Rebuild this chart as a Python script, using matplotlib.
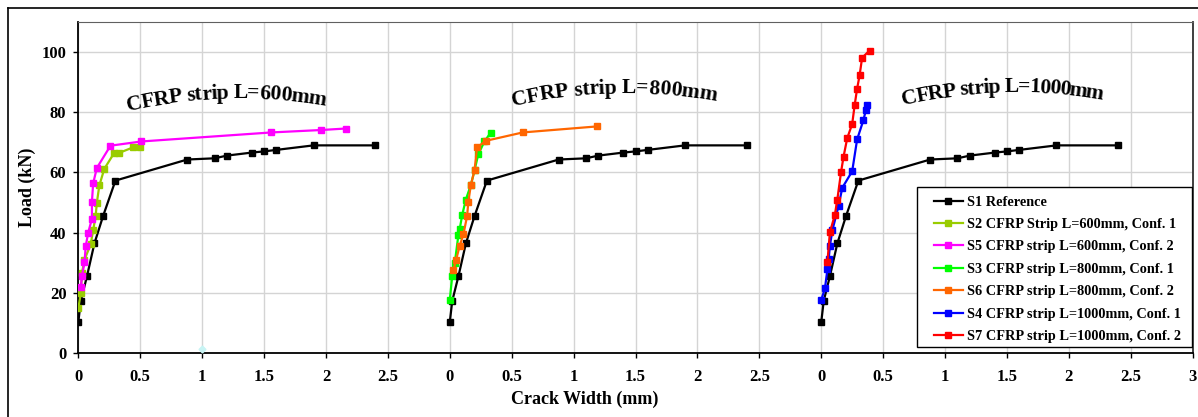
import numpy as np
import matplotlib
matplotlib.use("Agg")
import matplotlib.pyplot as plt
from matplotlib.font_manager import FontProperties
from matplotlib.transforms import IdentityTransform
from matplotlib.lines import Line2D
from matplotlib.patches import Rectangle

# ── data (crack width mm, load kN) ──
s1_x = [0, 0.02, 0.07, 0.13, 0.20, 0.30, 0.88, 1.10, 1.20, 1.40, 1.50, 1.60, 1.90, 2.40]
s1_y = [10.2, 17.3, 25.5, 36.4, 45.5, 57.3, 64.3, 64.7, 65.6, 66.6, 67.0, 67.5, 69.0, 69.0]

s2_x = [0, 0.02, 0.03, 0.05, 0.10, 0.12, 0.14, 0.15, 0.17, 0.21, 0.29, 0.33, 0.44, 0.50]
s2_y = [14.8, 19.8, 26.7, 31.0, 36.1, 40.8, 45.5, 50.0, 55.7, 61.2, 66.5, 66.5, 68.3, 68.5]

s5_x = [0.02, 0.03, 0.05, 0.06, 0.08, 0.11, 0.11, 0.12, 0.15, 0.26, 0.51, 1.56, 1.96, 2.16]
s5_y = [21.8, 25.6, 30.1, 35.5, 40.0, 44.6, 50.2, 56.4, 61.5, 68.9, 70.3, 73.3, 74.1, 74.6]

s3_x = [0, 0.02, 0.04, 0.07, 0.08, 0.10, 0.13, 0.17, 0.20, 0.23, 0.28, 0.33]
s3_y = [17.6, 25.6, 29.8, 39.3, 41.1, 45.8, 51.0, 55.8, 60.7, 66.0, 70.3, 73.2]

s6_x = [0.03, 0.05, 0.08, 0.11, 0.14, 0.15, 0.17, 0.20, 0.22, 0.29, 0.59, 1.19]
s6_y = [27.5, 30.8, 35.6, 39.4, 45.5, 50.2, 55.8, 60.7, 68.3, 70.5, 73.3, 75.3]

s4_x = [0, 0.03, 0.05, 0.06, 0.07, 0.09, 0.14, 0.17, 0.25, 0.29, 0.34, 0.36, 0.37]
s4_y = [17.6, 21.5, 27.8, 31.1, 35.6, 40.8, 48.9, 54.9, 60.4, 71.0, 77.3, 80.6, 82.3]

s7_x = [0.05, 0.07, 0.11, 0.13, 0.16, 0.18, 0.21, 0.25, 0.27, 0.29, 0.31, 0.33, 0.39]
s7_y = [30.2, 40.1, 45.9, 51.0, 60.1, 65.2, 71.4, 76.1, 82.4, 87.9, 92.3, 98.1, 100.5]

stray_x = [1.0]
stray_y = [1.2]

group_offsets = [0, 3, 6]   # each panel group shifted along the shared axis
x_tick_labels = ["0", "0.5", "1", "1.5", "2", "2.5"] * 2 + ["0", "0.5", "1", "1.5", "2", "2.5", "3"]
y_ticks = [0, 20, 40, 60, 80, 100]

labels = {
    "s1": "S1 Reference",
    "s2": "S2 CFRP Strip L=600mm, Conf. 1",
    "s5": "S5 CFRP strip L=600mm, Conf. 2",
    "s3": "S3 CFRP strip L=800mm, Conf. 1",
    "s6": "S6 CFRP strip L=800mm, Conf. 2",
    "s4": "S4 CFRP strip L=1000mm, Conf. 1",
    "s7": "S7 CFRP strip L=1000mm, Conf. 2",
}
colors = {"s1": "#000000", "s2": "#99CC00", "s5": "#FF00FF", "s3": "#00FF00",
          "s6": "#FF6600", "s4": "#0000FF", "s7": "#FF0000"}

SERIF = ["Liberation Serif", "DejaVu Serif"]
plt.rcParams["font.family"] = SERIF
plt.rcParams["font.weight"] = "bold"

W, H = 1198, 417
fig = plt.figure(figsize=(W / 100, H / 100), dpi=100)
AX_L, AX_R, AX_T, AX_B = 78.3, 1192.7, 22, 353
ax = fig.add_axes([AX_L / W, (H - AX_B) / H, (AX_R - AX_L) / W, (AX_B - AX_T) / H])

def img_to_axes(px, py):
    return (px - AX_L) / (AX_R - AX_L), (AX_B - py) / (AX_B - AX_T)

LW, MS = 1.6, 4.6

def draw(xs, ys, key, offset, label=None):
    ax.plot(np.array(xs) + offset, ys, color=colors[key], lw=LW, marker="s",
            ms=MS, mec=colors[key], mfc=colors[key], label=label, zorder=3)

# reference curve repeated in each group
for off in group_offsets:
    draw(s1_x, s1_y, "s1", off)
draw(s2_x, s2_y, "s2", group_offsets[0])
draw(s5_x, s5_y, "s5", group_offsets[0])
draw(s3_x, s3_y, "s3", group_offsets[1])
draw(s6_x, s6_y, "s6", group_offsets[1])
draw(s4_x, s4_y, "s4", group_offsets[2])
draw(s7_x, s7_y, "s7", group_offsets[2])
ax.plot(stray_x, stray_y, ls="none", marker="D", ms=3.5, color="#C8F4F4", zorder=3)

ax.set_xlim(0, 9)
ax.set_ylim(0, 110)
ax.set_xticks(np.arange(0, 9.01, 0.5))
ax.set_xticklabels(x_tick_labels)
ax.set_yticks(y_ticks)
ax.tick_params(axis="both", direction="out", length=3.5, width=1, labelsize=12)
ax.tick_params(axis="y", pad=5)
ax.tick_params(axis="x", pad=8)
ax.grid(True, color="#D4D4D4", lw=1)
ax.set_axisbelow(True)

for side in ["left", "bottom"]:
    ax.spines[side].set_linewidth(1.3)
    ax.spines[side].set_color("black")
ax.spines["top"].set_color("#606060")
ax.spines["right"].set_color("#303030")
ax.spines["right"].set_linewidth(1.3)

ax.set_ylabel("Load (kN)", fontsize=13, fontweight="bold")
ax.set_xlabel("Crack Width (mm)", fontsize=13, fontweight="bold")
ax.xaxis.set_label_coords(0.454, -0.115)
ax.yaxis.set_label_coords(-0.038, 0.5)

# legend: box drawn separately so the entries can sit where the reference has them
bx0, by0 = img_to_axes(917, 347)
bx1, by1 = img_to_axes(1192, 187)
ax.add_patch(Rectangle((bx0, by0), bx1 - bx0, by1 - by0, transform=ax.transAxes,
                       facecolor="white", edgecolor="black", lw=1.0, zorder=5))
handles = [Line2D([], [], color=colors[k], lw=LW, marker="s", ms=MS) for k in labels]
lx, ly = img_to_axes(934, 195.5)
leg = ax.legend(handles, list(labels.values()), loc="upper left",
                bbox_to_anchor=(lx, ly),
                prop=FontProperties(family=SERIF, weight="bold", size=10.3),
                frameon=False, borderaxespad=0, borderpad=0,
                handlelength=2.0, handletextpad=0.3, labelspacing=0.66)
leg.set_zorder(6)

# outer frame of the picture (only left and top edges are inside the image)
fig.add_artist(Line2D([7.5 / W, 7.5 / W], [0, (H - 8) / H], color="black", lw=1.2,
                      transform=fig.transFigure))
fig.add_artist(Line2D([7.5 / W, 1], [(H - 8) / H, (H - 8) / H], color="black", lw=1.2,
                      transform=fig.transFigure))

# arched group titles
renderer = fig.canvas.get_renderer()
arc_prop = FontProperties(family=SERIF, weight="bold", size=15.5)

def arc_text(s, x_img, y_img, width, phi0_deg, radius):
    widths = [renderer.get_text_width_height_descent(c, arc_prop, ismath=False)[0] for c in s]
    scale = width / sum(widths)
    x0, y0 = x_img, H - y_img
    phi0 = np.radians(phi0_deg)
    pos = 0.0
    for c, w in zip(s, widths):
        sm = (pos + w / 2) * scale
        phi = phi0 - sm / radius
        x = x0 + radius * (np.sin(phi0) - np.sin(phi))
        y = y0 + radius * (np.cos(phi) - np.cos(phi0))
        fig.text(x, y, c, transform=IdentityTransform(), fontproperties=arc_prop,
                 rotation=np.degrees(phi), rotation_mode="anchor",
                 ha="center", va="baseline")
        pos += w

arc_text("CFRP strip L=600mm", 128, 111, 198, 13, 500)
arc_text("CFRP strip L=800mm", 513, 106, 204, 13, 500)
arc_text("CFRP strip L=1000mm", 904, 105, 199, 13, 500)

fig.savefig("out.png", dpi=100)
